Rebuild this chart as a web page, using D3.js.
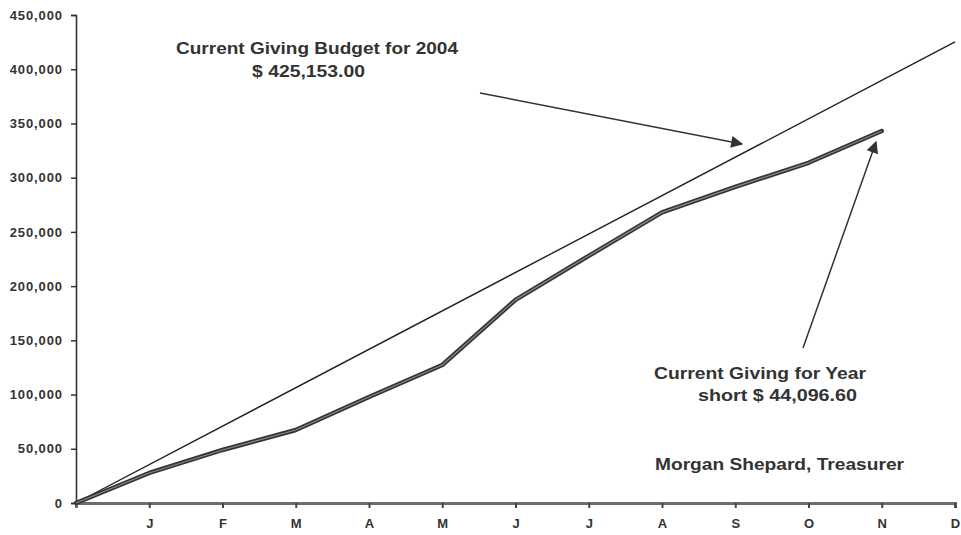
<!DOCTYPE html>
<html><head><meta charset="utf-8">
<script src="https://cdn.jsdelivr.net/npm/d3@7"></script>
<style>
body{margin:0;background:#fff;}
svg{display:block;font-family:"Liberation Sans",Arial,sans-serif;}
</style></head><body>
<svg id="c" width="961" height="535"></svg>
<script>
const monthLabels = ["", "J","F","M","A","M","J","J","A","S","O","N","D"];
const yTicks = [0,50000,100000,150000,200000,250000,300000,350000,400000,450000];
const givingIdx = [0,1,2,3,4,5,6,7,8,9,10,11];
const givingValues = [0,27700,48900,67300,97800,127300,187300,227900,268000,291500,313700,343000];
const budgetIdx = [0,12];
const budgetValues = [0,425153];

const svg = d3.select("#c");
const x = d3.scaleLinear().domain([0,12]).range([76,955]);
const y = d3.scaleLinear().domain([0,450000]).range([503,15]);

svg.append("defs").append("marker")
  .attr("id","ah").attr("viewBox","0 0 10 10").attr("refX",9).attr("refY",5)
  .attr("markerWidth",16).attr("markerHeight",12).attr("markerUnits","userSpaceOnUse")
  .attr("orient","auto")
  .append("path").attr("d","M0,0L10,5L0,10Z").attr("fill","#333");

// Y axis
const yAxis = svg.append("g").attr("transform",`translate(${x(0)},0)`)
  .call(d3.axisLeft(y).tickValues(yTicks).tickSize(5).tickPadding(8)
    .tickFormat(d=>d3.format(",")(d)));
yAxis.select(".domain").attr("stroke","#333").attr("stroke-width",1.6);
yAxis.selectAll(".tick line").attr("stroke","#333").attr("stroke-width",1.5);
yAxis.selectAll(".tick text").attr("fill","#333").style("font-size","13px")
  .style("font-weight","bold").style("letter-spacing","0.9px");

// X axis
const xAxis = svg.append("g").attr("transform",`translate(0,${y(0)})`)
  .call(d3.axisBottom(x).tickValues(d3.range(1,13)).tickSize(5).tickPadding(11)
    .tickFormat(d=>monthLabels[d]));
xAxis.select(".domain").attr("stroke","#6b6b74").attr("stroke-width",3);
xAxis.selectAll(".tick line").attr("stroke","#444").attr("stroke-width",2);
xAxis.selectAll(".tick text").attr("fill","#333").style("font-size","13px").style("font-weight","bold");

const line = d3.line().x(d=>x(d[0])).y(d=>y(d[1]));

svg.append("path").datum(d3.zip(budgetIdx,budgetValues))
  .attr("d",line).attr("fill","none").attr("stroke","#222").attr("stroke-width",1.4);

const gData = d3.zip(givingIdx,givingValues);
svg.append("path").datum(gData).attr("d",line).attr("fill","none")
  .attr("stroke","#333").attr("stroke-width",4.5).attr("stroke-linejoin","round").attr("stroke-linecap","round");
svg.append("path").datum(gData).attr("d",line).attr("fill","none")
  .attr("stroke","#8a8a8a").attr("stroke-width",1.2).attr("stroke-linejoin","round");

const txt = (s,xx,yy,w)=>svg.append("text").attr("x",xx).attr("y",yy).text(s)
  .attr("fill","#333").style("font-size","16.5px").style("font-weight","bold")
  .attr("textLength",w).attr("lengthAdjust","spacingAndGlyphs");
txt("Current Giving Budget for 2004",176,54,282);
txt("$ 425,153.00",252,77,113);
txt("Current Giving for Year",654,379,212);
txt("short  $ 44,096.60",698,401,159);
txt("Morgan Shepard, Treasurer",655,470,249);

svg.append("line").attr("x1",480).attr("y1",93).attr("x2",742).attr("y2",144)
  .attr("stroke","#333").attr("stroke-width",1.5).attr("marker-end","url(#ah)");
svg.append("line").attr("x1",803).attr("y1",348).attr("x2",876).attr("y2",142)
  .attr("stroke","#333").attr("stroke-width",1.5).attr("marker-end","url(#ah)");
</script>
</body></html>
